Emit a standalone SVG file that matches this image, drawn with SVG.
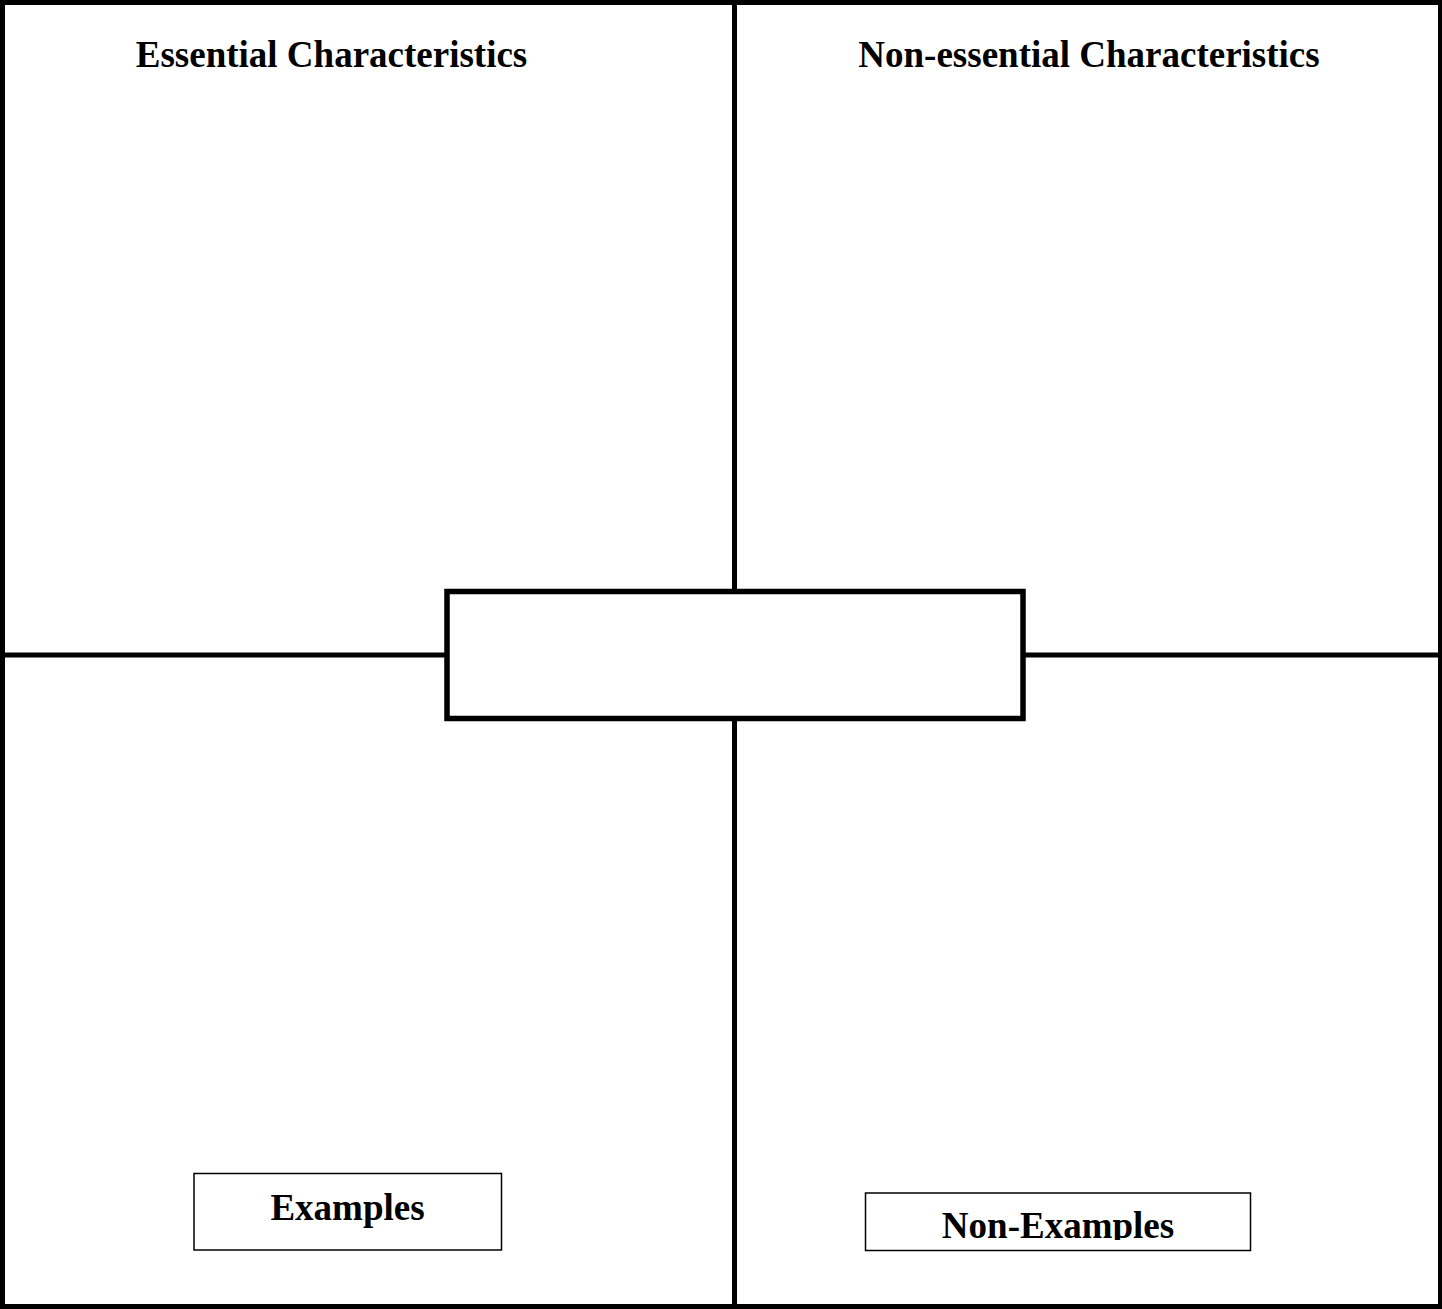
<svg xmlns="http://www.w3.org/2000/svg" width="1442" height="1309" viewBox="0 0 1442 1309">
<style>
.frame{fill:none;stroke:#000;stroke-width:5}
.line{stroke:#000;stroke-width:5;fill:none}
.box{fill:#fff;stroke:#000;stroke-width:5.5}
.lbl{fill:#fff;stroke:#000;stroke-width:1.5}
.t{font-family:"Liberation Serif","Times New Roman",serif;font-weight:bold;font-size:37px;fill:#000;text-anchor:middle}
</style>
<defs>
<clipPath id="nclip"><rect x="866" y="1194" width="384" height="46"/></clipPath>
</defs>
<rect width="1442" height="1309" fill="#fff"/>
<g id="connectors">
<line class="line" x1="734.5" y1="2.5" x2="734.5" y2="1306.5"/>
<line class="line" x1="2.5" y1="655" x2="1440.5" y2="655"/>
</g>
<g id="frame"><rect class="frame" x="2.5" y="2.5" width="1438" height="1304"/></g>
<g id="essential"><text class="t" x="331.5" y="67">Essential Characteristics</text></g>
<g id="nonessential"><text class="t" x="1089" y="67">Non-essential Characteristics</text></g>
<g id="center"><rect class="box" x="447" y="591.5" width="576" height="127"/></g>
<g id="examples"><rect class="lbl" x="194" y="1173.5" width="307.5" height="76.5"/><text class="t" x="347.5" y="1220">Examples</text></g>
<g id="nonexamples"><rect class="lbl" x="865.5" y="1193" width="385" height="57.5"/><text class="t" x="1058" y="1238" clip-path="url(#nclip)">Non-Examples</text></g>
</svg>
